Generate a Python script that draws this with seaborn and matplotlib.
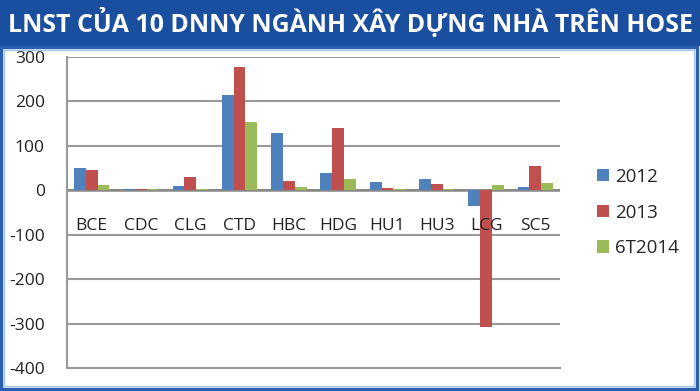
import matplotlib
matplotlib.use("Agg")
import matplotlib.pyplot as plt
import seaborn as sns
import pandas as pd
from matplotlib.patches import Rectangle

categories = ["BCE", "CDC", "CLG", "CTD", "HBC", "HDG", "HU1", "HU3", "LCG", "SC5"]
v2012 = [50, 2, 10, 215, 129, 38, 18, 25, -36, 7]
v2013 = [45, 3, 29, 277, 22, 141, 6, 15, -308, 54]
v6t2014 = [11, 3, 3, 154, 7, 26, 4, 4, 12, 16]
series = ["2012", "2013", "6T2014"]
yticks = [300, 200, 100, 0, -100, -200, -300, -400]
title = "LNST CỦA 10 DNNY NGÀNH XÂY DỰNG NHÀ TRÊN HOSE"

df = pd.DataFrame({
    "cat": categories * 3,
    "val": v2012 + v2013 + v6t2014,
    "series": [series[0]] * 10 + [series[1]] * 10 + [series[2]] * 10,
})

sns.set_theme(style="white")
plt.rcParams['font.family'] = ['Open Sans', 'DejaVu Sans']

fig = plt.figure(figsize=(7, 3.91), dpi=100)
fig.patch.set_facecolor("white")

# title band
fig.patches.append(Rectangle((0, 1 - 46 / 391), 1, 46 / 391, transform=fig.transFigure,
                             facecolor="#1a4f9f", edgecolor="none", zorder=0))
fig.text(0.011, 1 - 23 / 391, title, color="white", fontsize=17.9, fontweight="bold",
         ha="left", va="center", family=['Open Sans', 'DejaVu Sans'])
# outer border
fig.patches.append(Rectangle((0.002, 0.004), 0.994, 1 - 47 / 391 - 0.004, transform=fig.transFigure,
                             facecolor="none", edgecolor="#2a5fb0", linewidth=2.5, zorder=0))
fig.patches.append(Rectangle((0.006, 0.012), 0.986, 1 - 50 / 391 - 0.012, transform=fig.transFigure,
                             facecolor="none", edgecolor="#a9c8ee", linewidth=1, zorder=0))

ax = fig.add_axes([67 / 700, 1 - 368 / 391, (560 - 67) / 700, (368 - 57) / 391])
palette = ["#4f81bd", "#c0504d", "#9bbb59"]
sns.barplot(data=df, x="cat", y="val", hue="series", palette=palette, ax=ax,
            width=0.72, edgecolor="none", saturation=1, zorder=3)

ax.set_ylim(-400, 300)
ax.set_yticks(yticks)
ax.set_yticklabels([str(t) for t in yticks], fontsize=12.5, color="#222222")
ax.yaxis.grid(True, color="#999999", linewidth=1.5, zorder=0)
ax.set_axisbelow(True)
ax.set_xlabel("")
ax.set_ylabel("")
for s in ["top", "right"]:
    ax.spines[s].set_visible(False)
ax.spines["left"].set_color("#999999")
ax.spines["left"].set_linewidth(1.5)
ax.spines["bottom"].set_color("#999999")
ax.spines["bottom"].set_linewidth(1.5)
ax.axhline(0, color="#888888", linewidth=1.8, zorder=2)
ax.tick_params(axis="y", length=0, pad=16)
ax.tick_params(axis="x", length=0)
ax.set_xticks(range(len(categories)))
ax.set_xticklabels([])
for i, c in enumerate(categories):
    ax.text(i, -62, c, ha="center", va="top", fontsize=12.5, color="#222222", zorder=5)

leg = ax.legend(loc="center left", bbox_to_anchor=(1.04, 0.5), frameon=False,
                fontsize=13.5, handlelength=0.65, handleheight=0.65, handletextpad=0.35,
                labelspacing=0.95)
fig.savefig("out.png", dpi=100, facecolor="white")
